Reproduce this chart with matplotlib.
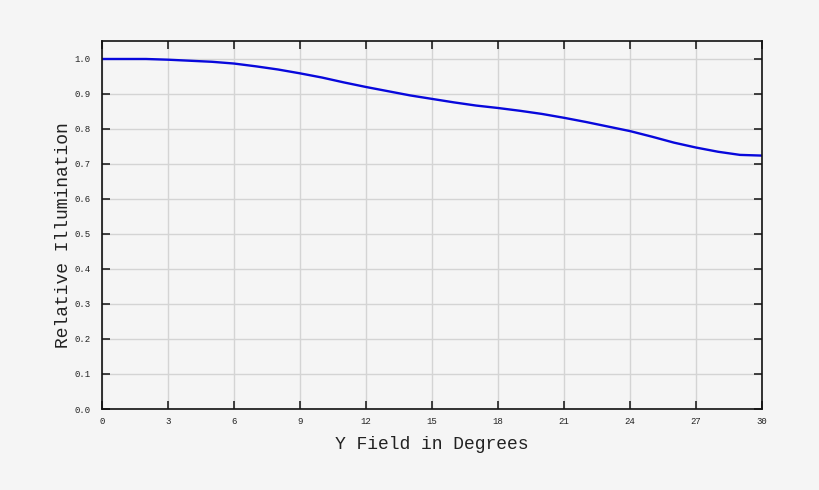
import matplotlib
matplotlib.use('Agg')
import matplotlib.pyplot as plt
import numpy as np

# valores (graus x iluminação relativa)
field_deg = [0, 1, 2, 3, 4, 5, 6, 7, 8, 9, 10, 11, 12, 13, 14, 15,
             16, 17, 18, 19, 20, 21, 22, 23, 24, 25, 26, 27, 28, 29, 30]
rel_illum = [1.000, 1.000, 1.000, 0.998, 0.995, 0.992, 0.987, 0.979, 0.970,
             0.959, 0.947, 0.933, 0.920, 0.908, 0.896, 0.886, 0.876, 0.867,
             0.860, 0.852, 0.843, 0.832, 0.820, 0.807, 0.794, 0.778, 0.761,
             0.747, 0.735, 0.726, 0.724]
x_ticks = [0, 3, 6, 9, 12, 15, 18, 21, 24, 27, 30]
y_ticks = [0.0, 0.1, 0.2, 0.3, 0.4, 0.5, 0.6, 0.7, 0.8, 0.9, 1.0]

plt.rcParams['font.family'] = ['Liberation Mono', 'DejaVu Sans Mono']

bg = '#f5f5f5'
fig = plt.figure(figsize=(8.2, 4.9), dpi=100, facecolor=bg)
ax = fig.add_axes([102/820, 1 - 409/490, 660/820, 368/490], facecolor=bg)

ax.plot(field_deg, rel_illum, color='#0808dc', lw=1.7)

ax.set_xlim(0, 30)
ax.set_ylim(0, 1.0514)
ax.set_xticks(x_ticks)
ax.set_yticks(y_ticks)
ax.set_xticklabels([str(v) for v in x_ticks])
ax.set_yticklabels(['%.1f' % v for v in y_ticks])
ax.grid(True, color='#d4d4d4', lw=1.0)
ax.set_axisbelow(True)
ax.tick_params(direction='in', length=6, width=1.2, top=True, right=True,
               labelsize=6.5, colors='#222222')
ax.tick_params(axis='x', pad=6)
ax.tick_params(axis='y', pad=8)
for s in ax.spines.values():
    s.set_linewidth(1.2)
    s.set_color('#111111')

ax.set_xlabel('Y Field in Degrees', fontsize=13, color='#222222', labelpad=7)
ax.set_ylabel('Relative Illumination', fontsize=13, color='#222222')
ax.yaxis.set_label_coords(-0.046, 0.473)

fig.savefig('out.png', dpi=100, facecolor=bg)
